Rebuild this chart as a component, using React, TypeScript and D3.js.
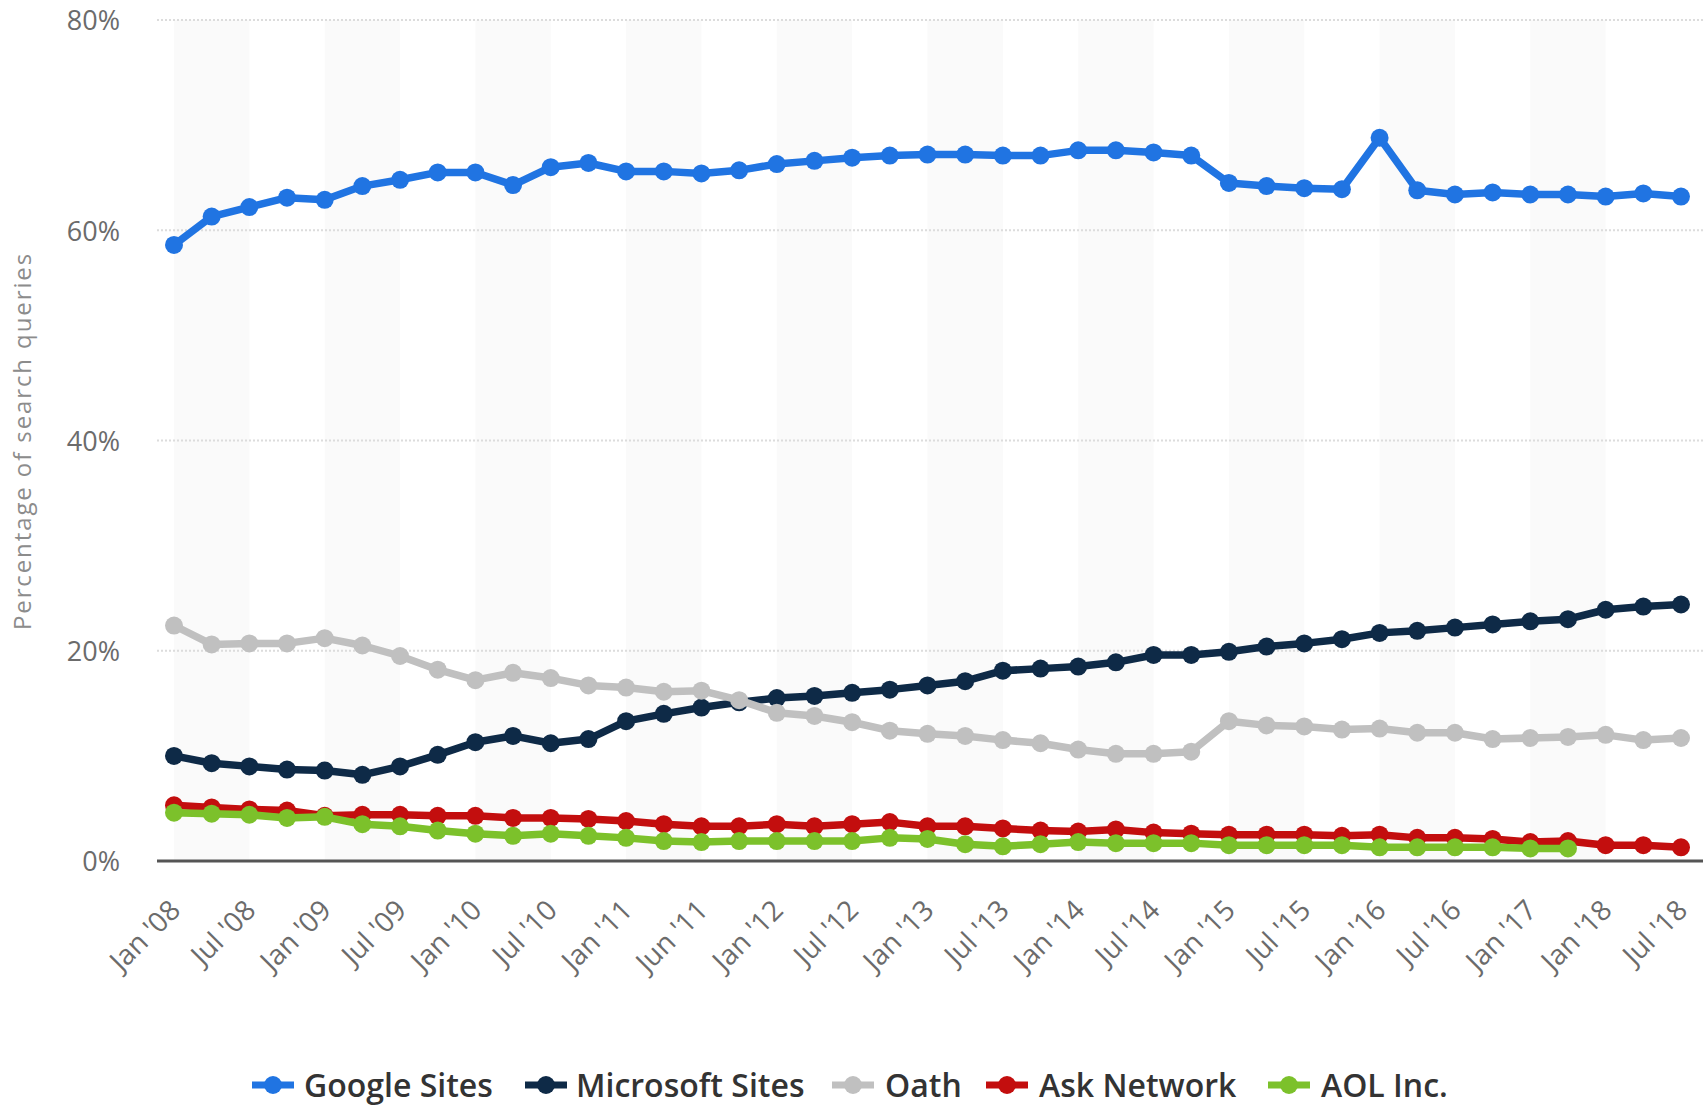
import React from "react";
import * as d3 from "d3";

const categories = [
  "Jan '08", "Apr '08", "Jul '08", "Oct '08", "Jan '09", "Apr '09", "Jul '09", "Oct '09",
  "Jan '10", "Apr '10", "Jul '10", "Oct '10", "Jan '11", "Mar '11", "Jun '11", "Sep '11",
  "Jan '12", "Apr '12", "Jul '12", "Oct '12", "Jan '13", "Apr '13", "Jul '13", "Oct '13",
  "Jan '14", "Apr '14", "Jul '14", "Oct '14", "Jan '15", "Apr '15", "Jul '15", "Oct '15",
  "Jan '16", "Apr '16", "Jul '16", "Oct '16", "Jan '17", "Jul '17", "Jan '18", "Apr '18", "Jul '18",
];

const googleSites = [58.6, 61.3, 62.2, 63.1, 62.9, 64.2, 64.8, 65.5, 65.5, 64.3, 66.0, 66.4, 65.6, 65.6, 65.4, 65.7, 66.3, 66.6, 66.9, 67.1, 67.2, 67.2, 67.1, 67.1, 67.6, 67.6, 67.4, 67.1, 64.5, 64.2, 64.0, 63.9, 68.8, 63.8, 63.4, 63.6, 63.4, 63.4, 63.2, 63.5, 63.2];
const microsoftSites = [10.0, 9.3, 9.0, 8.7, 8.6, 8.2, 9.0, 10.1, 11.3, 11.9, 11.2, 11.6, 13.3, 14.0, 14.6, 15.1, 15.5, 15.7, 16.0, 16.3, 16.7, 17.1, 18.1, 18.3, 18.5, 18.9, 19.6, 19.6, 19.9, 20.4, 20.7, 21.1, 21.7, 21.9, 22.2, 22.5, 22.8, 23.0, 23.9, 24.2, 24.4];
const oath = [22.4, 20.6, 20.7, 20.7, 21.2, 20.5, 19.5, 18.2, 17.2, 17.9, 17.4, 16.7, 16.5, 16.1, 16.2, 15.3, 14.1, 13.8, 13.2, 12.4, 12.1, 11.9, 11.5, 11.2, 10.6, 10.2, 10.2, 10.4, 13.3, 12.9, 12.8, 12.5, 12.6, 12.2, 12.2, 11.6, 11.7, 11.8, 12.0, 11.5, 11.7];
const askNetwork = [5.3, 5.1, 4.9, 4.8, 4.3, 4.4, 4.4, 4.3, 4.3, 4.1, 4.1, 4.0, 3.8, 3.5, 3.3, 3.3, 3.5, 3.3, 3.5, 3.7, 3.3, 3.3, 3.1, 2.9, 2.8, 3.0, 2.7, 2.6, 2.5, 2.5, 2.5, 2.4, 2.5, 2.2, 2.2, 2.1, 1.8, 1.9, 1.5, 1.5, 1.3];
const aolInc = [4.6, 4.5, 4.4, 4.1, 4.2, 3.5, 3.3, 2.9, 2.6, 2.4, 2.6, 2.4, 2.2, 1.9, 1.8, 1.9, 1.9, 1.9, 1.9, 2.2, 2.1, 1.6, 1.4, 1.6, 1.8, 1.7, 1.7, 1.7, 1.5, 1.5, 1.5, 1.5, 1.3, 1.3, 1.3, 1.3, 1.2, 1.2];

const seriesNames = ["Google Sites", "Microsoft Sites", "Oath", "Ask Network", "AOL Inc."];
const seriesColors = ["#2074e2", "#0e2a47", "#c0c0c0", "#c30e0e", "#7cc12b"];
const seriesValues = [googleSites, microsoftSites, oath, askNetwork, aolInc];

const yTicks = [0, 20, 40, 60, 80];
const yAxisTitle = "Percentage of search queries";

const W = 1706;
const H = 1105;
const FONT = "'Open Sans', 'DejaVu Sans', sans-serif";

export default function App() {
  const x = d3.scalePoint<string>().domain(categories).range([174, 1681]);
  const y = d3.scaleLinear().domain([0, 80]).range([861, 20]);
  const plotLeft = 157;
  const plotRight = 1703;

  const line = d3
    .line<number>()
    .x((_, i) => x(categories[i]) as number)
    .y((d) => y(d));

  const bands: number[] = [];
  for (let k = 0; k + 2 < categories.length; k += 4) bands.push(k);

  const legendItems = [
    { sym: 273, text: 304 },
    { sym: 546, text: 576 },
    { sym: 853, text: 885 },
    { sym: 1007, text: 1039 },
    { sym: 1289, text: 1321 },
  ];

  return (
    <svg
      width={W}
      height={H}
      style={{ position: "absolute", left: 0, top: 0, display: "block", background: "#fff" }}
      fontFamily={FONT}
    >
      <rect x={0} y={0} width={W} height={H} fill="#ffffff" />
      {bands.map((k) => (
        <rect
          key={"b" + k}
          x={x(categories[k]) as number}
          y={y(80)}
          width={(x(categories[k + 2]) as number) - (x(categories[k]) as number)}
          height={y(0) - y(80)}
          fill="#fafafa"
        />
      ))}
      {yTicks.filter((t) => t > 0).map((t) => (
        <line
          key={"g" + t}
          x1={plotLeft}
          x2={plotRight}
          y1={y(t)}
          y2={y(t)}
          stroke="#dcdcdc"
          strokeWidth={2}
          strokeDasharray="2 2"
        />
      ))}
      <line x1={plotLeft} x2={plotRight} y1={y(0)} y2={y(0)} stroke="#555555" strokeWidth={3} />
      {yTicks.map((t) => (
        <text
          key={"yt" + t}
          x={120}
          y={y(t)}
          dy="0.38em"
          textAnchor="end"
          fontSize={27}
          fill="#6b6b6b"
        >
          {t + "%"}
        </text>
      ))}
      <text
        transform={`translate(31, 441) rotate(-90)`}
        textAnchor="middle"
        fontSize={24}
        fill="#8c8c8c"
        letterSpacing={1.9}
      >
        {yAxisTitle}
      </text>
      {categories.map((c, i) =>
        i % 2 === 0 ? (
          <text
            key={"xt" + i}
            transform={`translate(${(x(c) as number) + 8}, 912) rotate(-45)`}
            textAnchor="end"
            fontSize={28}
            fill="#6b6b6b"
          >
            {c}
          </text>
        ) : null
      )}
      {seriesValues.map((vals, s) => (
        <g key={"s" + s}>
          <path d={line(vals) || ""} fill="none" stroke={seriesColors[s]} strokeWidth={7.5} strokeLinejoin="round" />
          {vals.map((v, i) => (
            <circle key={i} cx={x(categories[i]) as number} cy={y(v)} r={9} fill={seriesColors[s]} />
          ))}
        </g>
      ))}
      {legendItems.map((it, s) => (
        <g key={"l" + s}>
          <line x1={it.sym - 21} x2={it.sym + 21} y1={1085} y2={1085} stroke={seriesColors[s]} strokeWidth={7} />
          <circle cx={it.sym} cy={1085} r={9} fill={seriesColors[s]} />
          <text x={it.text} y={1085} dy="0.36em" fontSize={32} fontWeight={600} fill="#333333">
            {seriesNames[s]}
          </text>
        </g>
      ))}
    </svg>
  );
}
